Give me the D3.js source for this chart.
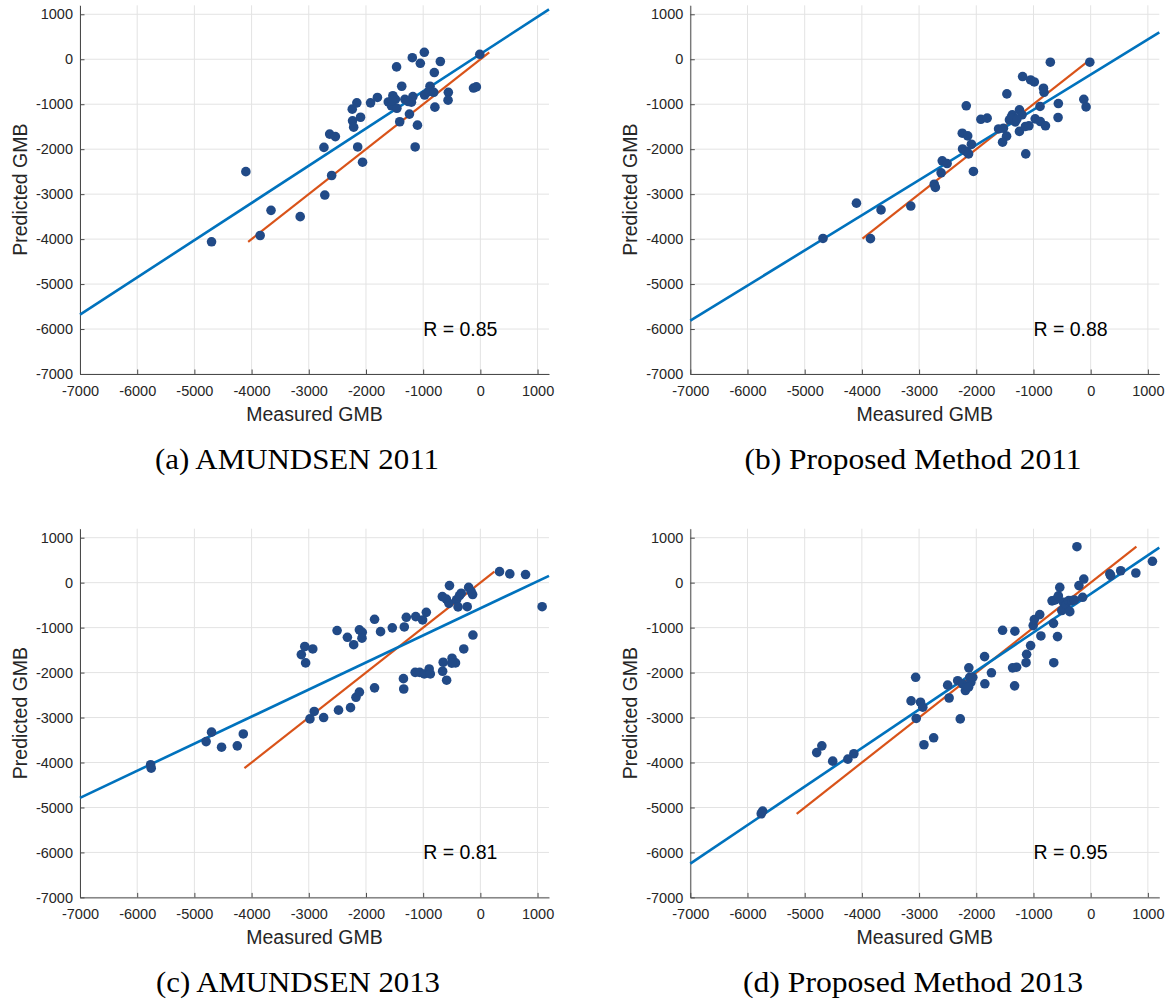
<!DOCTYPE html>
<html>
<head>
<meta charset="utf-8">
<script src="https://cdn.jsdelivr.net/npm/d3@7"></script>
<style>
  body { margin: 0; background: #fff; }
  svg { display: block; }
</style>
</head>
<body>
<svg id="chart" width="1174" height="1000"></svg>
<script>
// Axis ticks shared by all four panels
const xTicks = [-7000, -6000, -5000, -4000, -3000, -2000, -1000, 0, 1000];
const yTicks = [-7000, -6000, -5000, -4000, -3000, -2000, -1000, 0, 1000];
const axisDomain = [-7000, 1200];

// [measured, predicted] glacier mass balance pairs
const amundsen2011 = [
  [-4100, -2500], [-4700, -4060], [-3660, -3360], [-3850, -3920], [-3150, -3500],
  [-2735, -1960], [-2720, -3020], [-2635, -1665], [-2535, -1720], [-2600, -2585],
  [-2240, -1110], [-2160, -970], [-2235, -1370], [-2215, -1510], [-2095, -1290],
  [-2145, -1950], [-2060, -2290], [-1920, -970], [-1800, -850], [-1610, -950],
  [-1530, -810], [-1555, -1035], [-1485, -890], [-1460, -1090], [-1465, -170],
  [-1410, -1390], [-1375, -600], [-1320, -890], [-1240, -1220], [-1205, -955],
  [-1180, -830], [-1190, 35], [-1140, -1950], [-1100, -1465], [-1050, -90],
  [-980, 155], [-975, -795], [-880, -600], [-905, -720], [-815, -735],
  [-805, -295], [-795, -1065], [-700, -50], [-560, -735], [-565, -910],
  [-120, -640], [-70, -615], [-10, 110], [-1540, -920], [-1260, -940]
];
const proposed2011 = [
  [-4095, -3200], [-4680, -3985], [-3665, -3350], [-3850, -3990], [-3145, -3265],
  [-2735, -2780], [-2715, -2850], [-2615, -2525], [-2595, -2260], [-2510, -2320],
  [-2245, -1645], [-2175, -1035], [-2150, -1705], [-2240, -1995], [-2180, -2050],
  [-2135, -2105], [-2085, -1890], [-2050, -2495], [-1920, -1335], [-1810, -1310],
  [-1610, -1550], [-1525, -1535], [-1470, -1710], [-1540, -1845], [-1465, -770],
  [-1420, -1350], [-1370, -1235], [-1320, -1395], [-1245, -1125], [-1245, -1605],
  [-1200, -1235], [-1190, -385], [-1135, -2105], [-1140, -1495], [-1080, -1480],
  [-1050, -460], [-985, -505], [-970, -1325], [-885, -1050], [-880, -1385],
  [-825, -645], [-815, -735], [-790, -1480], [-705, -65], [-565, -985],
  [-570, -1295], [-120, -890], [-80, -1060], [-15, -65], [-1390, -1300], [-1290, -1330]
];
const amundsen2013 = [
  [-5765, -4050], [-5755, -4125], [-4795, -3535], [-4700, -3325], [-4525, -3660],
  [-4250, -3630], [-4145, -3365], [-3130, -1600], [-3070, -1420], [-3055, -1785],
  [-2930, -1475], [-2980, -3030], [-2905, -2865], [-2740, -3000], [-2505, -1065],
  [-2480, -2835], [-2325, -1215], [-2270, -2780], [-2215, -1380], [-2175, -2550],
  [-2115, -2435], [-2115, -1050], [-2065, -1105], [-2070, -1235], [-1850, -815],
  [-1850, -2340], [-1745, -1090], [-1540, -1005], [-1345, -2135], [-1340, -2365],
  [-1330, -985], [-1295, -770], [-1130, -755], [-1140, -1995], [-1060, -1995],
  [-1010, -830], [-980, -2030], [-945, -660], [-895, -1920], [-875, -2030],
  [-665, -310], [-650, -1770], [-660, -1970], [-595, -365], [-590, -2170],
  [-540, -65], [-550, -460], [-495, -1680], [-435, -1785], [-500, -1790],
  [-415, -380], [-365, -290], [-335, -235], [-390, -540], [-290, -1475],
  [-230, -535], [-205, -105], [-135, -265], [-160, -200], [-130, -1165],
  [335, 245], [515, 195], [790, 180], [1080, -535]
];
const proposed2013 = [
  [-5760, -5140], [-5735, -5080], [-4790, -3780], [-4700, -3630], [-4510, -3970],
  [-4245, -3925], [-4140, -3805], [-3140, -2630], [-3060, -2105], [-3050, -3020],
  [-2975, -2660], [-2935, -2770], [-2915, -3605], [-2745, -3450], [-2500, -2280],
  [-2475, -2565], [-2325, -2180], [-2280, -3030], [-2240, -2250], [-2190, -2400],
  [-2165, -2310], [-2130, -1895], [-2115, -2105], [-2095, -2220], [-2060, -2105],
  [-2135, -2325], [-1855, -1645], [-1850, -2250], [-1735, -2005], [-1540, -1060],
  [-1325, -1080], [-1365, -1895], [-1295, -1880], [-1330, -2295], [-1130, -1780],
  [-1120, -1595], [-1050, -1400], [-1005, -955], [-985, -820], [-890, -710],
  [-870, -1185], [-650, -905], [-645, -1780], [-580, -1200], [-675, -405],
  [-620, -385], [-565, -295], [-540, -105], [-505, -620], [-477, -437],
  [-430, -490], [-384, -400], [-365, -645], [-331, -400], [-285, -385],
  [-205, -65], [-120, 80], [-140, -325], [-240, 800], [335, 195],
  [350, 155], [525, 265], [790, 215], [1080, 475]
];

// Linear fits: [slope, intercept]
const fitAmundsen2011 = [0.828, 116];
const fitProposed2011 = [0.782, -341];
const fitAmundsen2013 = [0.602, -571];
const fitProposed2013 = [0.857, -250];

const rLabels = ["R = 0.85", "R = 0.88", "R = 0.81", "R = 0.95"];
const rLabelAt = [-1000, -6000];
const captions = ["(a) AMUNDSEN 2011", "(b) Proposed Method 2011",
                  "(c) AMUNDSEN 2013", "(d) Proposed Method 2013"];

const panels = [
  { data: amundsen2011, fit: fitAmundsen2011, r: rLabels[0], caption: captions[0], left: 80,    top: 5.3,   capX: 297, capY: 469, capW: 284 },
  { data: proposed2011, fit: fitProposed2011, r: rLabels[1], caption: captions[1], left: 690.3, top: 5.3,   capX: 913, capY: 469, capW: 337 },
  { data: amundsen2013, fit: fitAmundsen2013, r: rLabels[2], caption: captions[2], left: 80,    top: 528.7, capX: 298, capY: 992, capW: 284 },
  { data: proposed2013, fit: fitProposed2013, r: rLabels[3], caption: captions[3], left: 690.3, top: 528.7, capX: 913, capY: 992, capW: 340 }
];

const W = 469, H = 368.7;
const sansFont = "'Liberation Sans', Arial, Helvetica, sans-serif";
const serifFont = "'Liberation Serif', 'Times New Roman', serif";
const BLUE = "#0072BD", ORANGE = "#D95319", DOT = "#214a87";
const fmt = d => d3.format("d")(d).replace("\u2212", "-");

const svg = d3.select("#chart");

panels.forEach(p => {
  const x = d3.scaleLinear().domain(axisDomain).range([0, W]);
  const y = d3.scaleLinear().domain(axisDomain).range([H, 0]);
  const g = svg.append("g").attr("transform", `translate(${p.left},${p.top})`);

  // grid
  g.append("g").selectAll("line").data(xTicks).join("line")
    .attr("x1", d => x(d)).attr("x2", d => x(d))
    .attr("y1", 0).attr("y2", H)
    .attr("stroke", "#e3e3e3").attr("stroke-width", 1);
  g.append("g").selectAll("line").data(yTicks).join("line")
    .attr("x1", 0).attr("x2", W)
    .attr("y1", d => y(d)).attr("y2", d => y(d))
    .attr("stroke", "#e3e3e3").attr("stroke-width", 1);

  // axes with inward ticks
  const xAxis = g.append("g").attr("transform", `translate(0,${H})`)
    .call(d3.axisBottom(x).tickValues(xTicks).tickFormat(fmt)
      .tickSizeInner(-4.5).tickSizeOuter(0).tickPadding(11.7));
  const yAxis = g.append("g")
    .call(d3.axisLeft(y).tickValues(yTicks).tickFormat(fmt)
      .tickSizeInner(-4.5).tickSizeOuter(0).tickPadding(7));
  [xAxis, yAxis].forEach(a => {
    a.select(".domain").attr("stroke", "#4a4a4a").attr("stroke-width", 1);
    a.selectAll(".tick line").attr("stroke", "#4a4a4a");
    a.selectAll(".tick text").attr("fill", "#262626")
      .style("font-family", sansFont).style("font-size", "14.5px");
  });

  // axis titles
  g.append("text")
    .attr("x", W / 2).attr("y", H + 47)
    .attr("text-anchor", "middle")
    .attr("fill", "#262626")
    .style("font-family", sansFont).style("font-size", "19.5px")
    .text("Measured GMB");
  g.append("text")
    .attr("transform", `translate(-53,${H / 2}) rotate(-90)`)
    .attr("text-anchor", "middle")
    .attr("fill", "#262626")
    .style("font-family", sansFont).style("font-size", "19.5px")
    .text("Predicted GMB");

  // 1:1 reference line over the range of predictions
  const ext = d3.extent(p.data, d => d[1]);
  g.append("line")
    .attr("x1", x(ext[0])).attr("y1", y(ext[0]))
    .attr("x2", x(ext[1])).attr("y2", y(ext[1]))
    .attr("stroke", ORANGE).attr("stroke-width", 2.2);

  // regression line across the full axis range
  const [m, c] = p.fit;
  g.append("line")
    .attr("x1", x(axisDomain[0])).attr("y1", y(m * axisDomain[0] + c))
    .attr("x2", x(axisDomain[1])).attr("y2", y(m * axisDomain[1] + c))
    .attr("stroke", BLUE).attr("stroke-width", 2.6);

  // observations
  g.append("g").selectAll("circle").data(p.data).join("circle")
    .attr("cx", d => x(d[0])).attr("cy", d => y(d[1]))
    .attr("r", 4.8).attr("fill", DOT);

  // correlation label
  g.append("text")
    .attr("x", x(rLabelAt[0])).attr("y", y(rLabelAt[1]))
    .attr("dy", "0.35em")
    .attr("fill", "#000")
    .style("font-family", sansFont).style("font-size", "19.5px")
    .text(p.r);

  // caption
  svg.append("text")
    .attr("x", p.capX).attr("y", p.capY)
    .attr("text-anchor", "middle")
    .attr("textLength", p.capW).attr("lengthAdjust", "spacingAndGlyphs")
    .attr("fill", "#000")
    .style("font-family", serifFont).style("font-size", "30px")
    .text(p.caption);
});
</script>
</body>
</html>
